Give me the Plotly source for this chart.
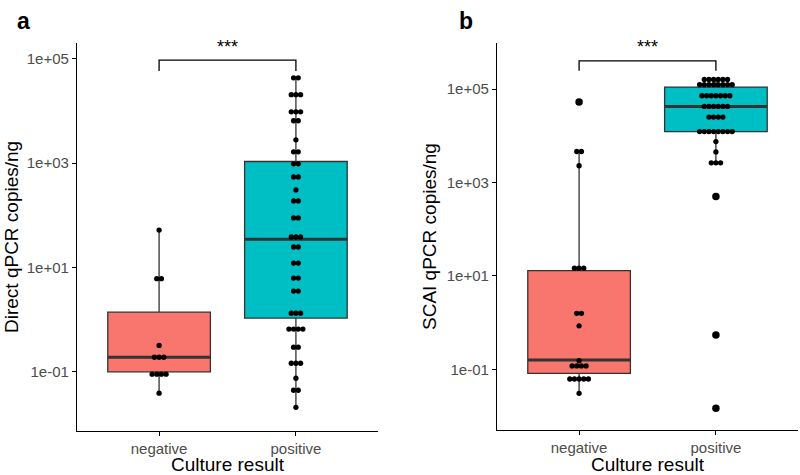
import plotly.graph_objects as go
import numpy as np

# ---------------- data ----------------
categories = ["negative", "positive"]
tick_vals = [0.1, 10, 1000, 100000]
tick_text = ["1e-01", "1e+01", "1e+03", "1e+05"]

# Panel a: Direct qPCR copies/ng
a_neg_points = [52, 6.1, 6.1, 0.32, 0.19, 0.19, 0.19, 0.09, 0.09, 0.09, 0.09, 0.039]
a_pos_points = [43000, 43000, 20400, 20400, 20400, 9600, 9600, 9600, 6460, 6460,
                2790, 1640, 1640, 966, 966, 543, 543, 306, 188, 188,
                88.8, 88.8, 38.3, 38.3, 38.3, 24.7, 24.7, 12.1, 12.1, 6.26,
                6.26, 3.53, 3.53, 1.33, 1.33, 1.33, 0.658, 0.658, 0.658, 0.658,
                0.296, 0.296, 0.146, 0.146, 0.146, 0.0753, 0.0443, 0.0443, 0.0209]
a_q1 = [0.1, 1.07]
a_median = [0.19, 34.6]
a_q3 = [1.39, 1070]
a_lower = [0.039, 0.0209]
a_upper = [52, 43000]
a_outliers = [[], []]

# Panel b: SCAI qPCR copies/ng
b_neg_points = [53000, 4600, 4600, 2280, 14.6, 14.6, 14.6, 1.58, 1.58, 0.85,
                0.153, 0.118, 0.118, 0.118, 0.118, 0.062, 0.062, 0.062, 0.062, 0.062,
                0.0306]
b_pos_points = [161000, 161000, 161000, 161000, 161000, 161000,
                124000, 124000, 124000, 124000, 124000, 124000, 124000, 124000,
                71800, 71800, 71800, 71800, 71800, 71800, 71800,
                42400, 42400, 42400, 42400, 42400, 42400,
                25100, 25100, 25100, 25100,
                12300, 12300, 12300, 12300, 12300, 12300, 12300, 12300,
                7500, 4500, 2630, 2630, 2630, 502, 0.543, 0.0146]
b_q1 = [0.082, 12300]
b_median = [0.158, 42400]
b_q3 = [13, 110000]
b_lower = [0.0306, 2630]
b_upper = [4600, 161000]
b_outliers = [[53000], [502, 0.543, 0.0146]]

fill_colors = ["#F8766D", "#00BFC4"]

# ---------------- layout helpers ----------------
W, H = 800, 475
def px(x):
    return x / W
def py(y):
    return 1 - y / H

panels = [
    dict(xa="x", ya="y", xdom=[px(77), px(378)], ydom=[py(431), py(43)],
         yrange=[-2.134, 5.30], pts=[a_neg_points, a_pos_points],
         q1=a_q1, med=a_median, q3=a_q3, lo=a_lower, hi=a_upper, out=a_outliers,
         title="Direct qPCR copies/ng", ytitle_x=12, letter="a", letter_x=23,
         br_top=0.956, br_bot=0.928),
    dict(xa="x2", ya="y2", xdom=[px(497), px(798)], ydom=[py(430), py(43)],
         yrange=[-2.30, 5.986], pts=[b_neg_points, b_pos_points],
         q1=b_q1, med=b_median, q3=b_q3, lo=b_lower, hi=b_upper, out=b_outliers,
         title="SCAI qPCR copies/ng", ytitle_x=430, letter="b", letter_x=466,
         br_top=0.954, br_bot=0.928),
]

fig = go.Figure()
box_w = 0.75
dot_step = 0.034
annotations = []
shapes = []
FONT = "Arial, Liberation Sans, sans-serif"

for p in panels:
    for i in range(2):
        fig.add_trace(go.Box(
            x=[i], q1=[p["q1"][i]], median=[p["med"][i]], q3=[p["q3"][i]],
            lowerfence=[p["lo"][i]], upperfence=[p["hi"][i]],
            width=box_w, whiskerwidth=0, fillcolor=fill_colors[i],
            line=dict(color="#333333", width=1.3), boxpoints=False,
            hoverinfo="skip", showlegend=False, xaxis=p["xa"], yaxis=p["ya"]))
        # thick median line
        fig.add_trace(go.Scatter(
            x=[i - box_w / 2, i + box_w / 2], y=[p["med"][i]] * 2, mode="lines",
            line=dict(color="#333333", width=3), showlegend=False,
            hoverinfo="skip", xaxis=p["xa"], yaxis=p["ya"]))
        # outliers
        if p["out"][i]:
            fig.add_trace(go.Scatter(
                x=[i] * len(p["out"][i]), y=p["out"][i], mode="markers",
                marker=dict(color="black", size=7.5), showlegend=False,
                hoverinfo="skip", xaxis=p["xa"], yaxis=p["ya"]))
        # dotplot (center-stacked)
        vals = p["pts"][i]
        uniq = []
        for v in vals:
            if v not in uniq:
                uniq.append(v)
        xs, ys = [], []
        for v in uniq:
            n = vals.count(v)
            for k in range(n):
                xs.append(i + (k - (n - 1) / 2) * dot_step)
                ys.append(v)
        fig.add_trace(go.Scatter(
            x=xs, y=ys, mode="markers",
            marker=dict(color="black", size=5.3), showlegend=False,
            hoverinfo="skip", xaxis=p["xa"], yaxis=p["ya"]))

    # significance bracket
    xref = p["xa"]
    yref = p["ya"] + " domain"
    shapes.append(dict(type="path", xref=xref, yref=yref,
                       path=f"M 0,{p['br_bot']} L 0,{p['br_top']} L 1,{p['br_top']} L 1,{p['br_bot']}",
                       line=dict(color="black", width=1.3)))
    annotations.append(dict(text="***", x=0.5, y=p["br_top"] + 0.004, xref=xref, yref=yref,
                            showarrow=False, xanchor="center", yanchor="bottom",
                            font=dict(size=18, color="black", family=FONT)))
    # panel letter
    annotations.append(dict(text=f"<b>{p['letter']}</b>", x=px(p["letter_x"]), y=py(21),
                            xref="paper", yref="paper", showarrow=False,
                            xanchor="center", yanchor="middle",
                            font=dict(size=23, color="black", family=FONT)))
    # y title
    annotations.append(dict(text=p["title"], x=px(p["ytitle_x"]), y=py(237),
                            xref="paper", yref="paper", showarrow=False, textangle=-90,
                            xanchor="center", yanchor="middle",
                            font=dict(size=19, color="black", family=FONT)))
    # x title
    annotations.append(dict(text="Culture result", x=(p["xdom"][0] + p["xdom"][1]) / 2, y=py(464),
                            xref="paper", yref="paper", showarrow=False,
                            xanchor="center", yanchor="middle",
                            font=dict(size=19, color="black", family=FONT)))

axis_common = dict(showline=True, linecolor="black", linewidth=1.3, ticks="outside",
                   ticklen=4, tickcolor="black", tickwidth=1.2, showgrid=False,
                   zeroline=False, automargin=False,
                   tickfont=dict(size=15, color="#4D4D4D", family=FONT))

layout = dict(width=W, height=H, margin=dict(l=0, r=0, t=0, b=0),
              plot_bgcolor="white", paper_bgcolor="white", showlegend=False,
              annotations=annotations, shapes=shapes)
for p, (xk, yk) in zip(panels, [("xaxis", "yaxis"), ("xaxis2", "yaxis2")]):
    layout[xk] = dict(domain=p["xdom"], range=[-0.6, 1.6], tickvals=[0, 1],
                      ticktext=categories, anchor=p["ya"], **axis_common)
    layout[yk] = dict(domain=p["ydom"], type="log", range=p["yrange"],
                      tickvals=tick_vals, ticktext=tick_text, anchor=p["xa"], **axis_common)

fig.update_layout(**layout)
fig.write_html("out.html", config={"displayModeBar": False},
               post_script="document.body.style.margin='0';document.body.style.overflow='hidden';")
